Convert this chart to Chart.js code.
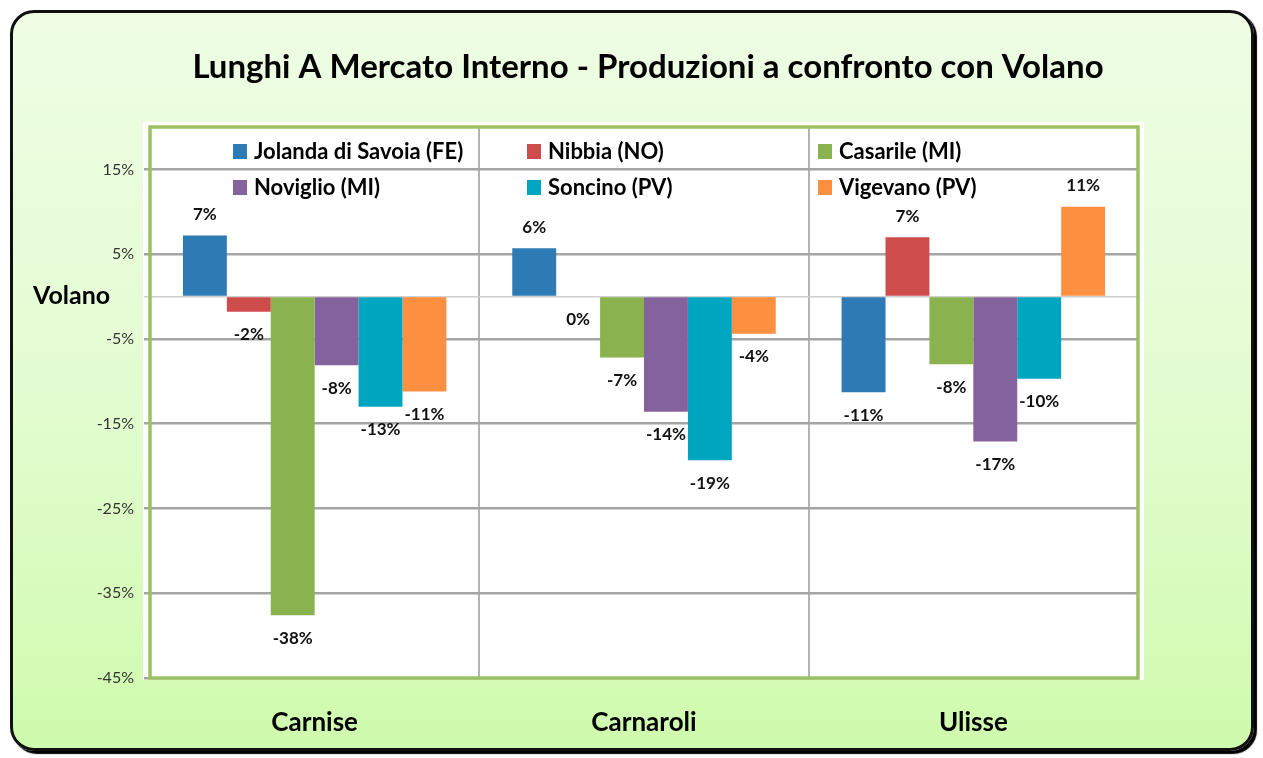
<!DOCTYPE html>
<html>
<head>
<meta charset="utf-8">
<script src="https://cdn.jsdelivr.net/npm/chart.js@4.4.1/dist/chart.umd.min.js"></script>
<style>
  html, body { margin: 0; padding: 0; background: #ffffff; }
  #wrap { position: relative; width: 1263px; height: 758px; overflow: hidden; }
  #frame {
    position: absolute; left: 10px; top: 10px; width: 1244px; height: 741px;
    box-sizing: border-box; border: 3px solid #111; border-radius: 24px;
    background: linear-gradient(to bottom, #eefde4 0%, #e4fcd2 50%, #cffbad 100%);
    box-shadow: 3px 3px 1px #000;
  }
  #c { position: absolute; left: 0; top: 0; }
</style>
</head>
<body>
<div id="wrap">
  <div id="frame"></div>
  <canvas id="c" width="1263" height="758"></canvas>
</div>
<script>
const chartTitle = "Lunghi A Mercato Interno - Produzioni a confronto con Volano";
const yAxisTitle = "Volano";
const categories = ["Carnise", "Carnaroli", "Ulisse"];
const seriesNames = ["Jolanda di Savoia (FE)", "Nibbia (NO)", "Casarile (MI)", "Noviglio (MI)", "Soncino (PV)", "Vigevano (PV)"];
const jolanda  = [7.2, 5.7, -11.3];
const nibbia   = [-1.8, 0, 7.0];
const casarile = [-37.6, -7.2, -8.0];
const noviglio = [-8.1, -13.6, -17.1];
const soncino  = [-13.0, -19.3, -9.7];
const vigevano = [-11.2, -4.4, 10.6];
const seriesColors = ["#2e7ab5", "#cf4c4c", "#8ab24f", "#84629e", "#00a5c0", "#fd8f40"];
const yTickValues = [-45, -35, -25, -15, -5, 0, 5, 15];
const yMin = -45, yMax = 20;

const seriesValues = [jolanda, nibbia, casarile, noviglio, soncino, vigevano];
const FONT = "Lato, 'Open Sans', sans-serif";

const decorPlugin = {
  id: 'decor',
  beforeDraw(chart) {
    const ctx = chart.ctx, a = chart.chartArea;
    ctx.save();
    ctx.fillStyle = '#ffffff';
    ctx.fillRect(a.left - 7, a.top - 5, a.right - a.left + 13, a.bottom - a.top + 7);
    ctx.restore();
  },
  afterDatasetsDraw(chart) {
    const ctx = chart.ctx;
    ctx.save();
    ctx.font = "bold 17px " + FONT;
    ctx.fillStyle = '#111';
    ctx.textAlign = 'center';
    ctx.textBaseline = 'middle';
    chart.data.datasets.forEach((ds, di) => {
      const meta = chart.getDatasetMeta(di);
      meta.data.forEach((bar, i) => {
        const v = ds.data[i];
        const txt = Math.round(v) + '%';
        const y = v > 0 ? bar.y - 21 : bar.y + 23;
        ctx.fillText(txt === '-0%' ? '0%' : txt, bar.x, y);
      });
    });
    ctx.restore();
  },
  afterDraw(chart) {
    const ctx = chart.ctx, a = chart.chartArea;
    ctx.save();
    // plot border
    ctx.strokeStyle = '#9cc163';
    ctx.lineWidth = 3.5;
    ctx.strokeRect(a.left, a.top, a.right - a.left, a.bottom - a.top);
    // title
    ctx.fillStyle = '#000';
    ctx.font = "bold 33px " + FONT;
    ctx.textAlign = 'center';
    ctx.textBaseline = 'middle';
    ctx.fillText(chartTitle, 648, 67);
    // y axis title
    ctx.font = "bold 25px " + FONT;
    ctx.textAlign = 'left';
    ctx.fillText(yAxisTitle, 33, 296);
    // legend
    const colX = [233, 527, 818];
    const rowY = [151, 187];
    ctx.font = "bold 22px " + FONT;
    chart.data.datasets.forEach((ds, di) => {
      const x = colX[di % 3], y = rowY[Math.floor(di / 3)];
      ctx.fillStyle = ds.backgroundColor;
      ctx.fillRect(x, y - 7, 14, 15);
      ctx.fillStyle = '#000';
      ctx.fillText(ds.label, x + 21, y + 1);
    });
    ctx.restore();
  }
};

new Chart(document.getElementById('c'), {
  type: 'bar',
  data: {
    labels: categories,
    datasets: seriesNames.map((name, i) => ({
      label: name,
      data: seriesValues[i],
      backgroundColor: seriesColors[i],
      borderWidth: 0,
      categoryPercentage: 0.8,
      barPercentage: 1.0
    }))
  },
  options: {
    responsive: false,
    animation: false,
    devicePixelRatio: 1,
    layout: { padding: { left: 0, right: 125, top: 127, bottom: 0 } },
    plugins: { legend: { display: false }, title: { display: false }, tooltip: { enabled: false } },
    scales: {
      x: {
        grid: { offset: true, color: '#b4b4b4', lineWidth: 2, drawTicks: false },
        border: { display: false },
        ticks: { font: { family: FONT, size: 26, weight: 'bold' }, color: '#000', padding: 29 },
        afterFit(scale) { scale.height = 80; }
      },
      y: {
        min: yMin, max: yMax,
        afterBuildTicks(scale) { scale.ticks = yTickValues.map(v => ({ value: v })); },
        grid: {
          color: c => (c.tick && c.tick.value === 0) ? '#cfcfcf' : '#a4a4a4',
          lineWidth: c => (c.tick && c.tick.value === 0) ? 1.5 : 2.5,
          tickLength: 6
        },
        border: { display: false },
        ticks: {
          font: { family: FONT, size: 16 }, color: '#333', padding: 10,
          callback: v => v === 0 ? '' : v + '%'
        },
        afterFit(scale) { scale.width = 150; }
      }
    }
  },
  plugins: [decorPlugin]
});
</script>
</body>
</html>
